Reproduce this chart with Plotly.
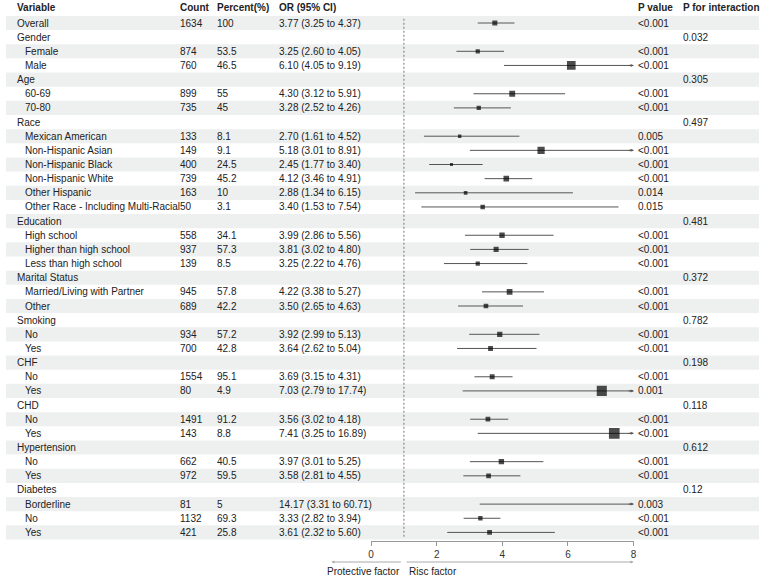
import plotly.graph_objects as go

# ---------------- data ----------------
labels = ["Overall", "Gender", "Female", "Male", "Age", "60-69", "70-80", "Race",
          "Mexican American", "Non-Hispanic Asian", "Non-Hispanic Black", "Non-Hispanic White",
          "Other Hispanic", "Other Race - Including Multi-Racial", "Education", "High school",
          "Higher than high school", "Less than high school", "Marital Status",
          "Married/Living with Partner", "Other", "Smoking", "No", "Yes", "CHF", "No", "Yes",
          "CHD", "No", "Yes", "Hypertension", "No", "Yes", "Diabetes", "Borderline", "No", "Yes"]
is_sub = [0, 0, 1, 1, 0, 1, 1, 0, 1, 1, 1, 1, 1, 1, 0, 1, 1, 1, 0, 1, 1, 0, 1, 1, 0, 1, 1,
          0, 1, 1, 0, 1, 1, 0, 1, 1, 1]
counts = ["1634", "", "874", "760", "", "899", "735", "", "133", "149", "400", "739", "163", "50",
          "", "558", "937", "139", "", "945", "689", "", "934", "700", "", "1554", "80", "",
          "1491", "143", "", "662", "972", "", "81", "1132", "421"]
percents = ["100", "", "53.5", "46.5", "", "55", "45", "", "8.1", "9.1", "24.5", "45.2", "10", "3.1",
            "", "34.1", "57.3", "8.5", "", "57.8", "42.2", "", "57.2", "42.8", "", "95.1", "4.9", "",
            "91.2", "8.8", "", "40.5", "59.5", "", "5", "69.3", "25.8"]
est = [3.77, None, 3.25, 6.10, None, 4.30, 3.28, None, 2.70, 5.18, 2.45, 4.12, 2.88, 3.40,
       None, 3.99, 3.81, 3.25, None, 4.22, 3.50, None, 3.92, 3.64, None, 3.69, 7.03, None,
       3.56, 7.41, None, 3.97, 3.58, None, 14.17, 3.33, 3.61]
low = [3.25, None, 2.60, 4.05, None, 3.12, 2.52, None, 1.61, 3.01, 1.77, 3.46, 1.34, 1.53,
       None, 2.86, 3.02, 2.22, None, 3.38, 2.65, None, 2.99, 2.62, None, 3.15, 2.79, None,
       3.02, 3.25, None, 3.01, 2.81, None, 3.31, 2.82, 2.32]
high = [4.37, None, 4.05, 9.19, None, 5.91, 4.26, None, 4.52, 8.91, 3.40, 4.91, 6.15, 7.54,
        None, 5.56, 4.80, 4.76, None, 5.27, 4.63, None, 5.13, 5.04, None, 4.31, 17.74, None,
        4.18, 16.89, None, 5.25, 4.55, None, 60.71, 3.94, 5.60]
pvals = ["<0.001", "", "<0.001", "<0.001", "", "<0.001", "<0.001", "", "0.005", "<0.001", "<0.001",
         "<0.001", "0.014", "0.015", "", "<0.001", "<0.001", "<0.001", "", "<0.001", "<0.001", "",
         "<0.001", "<0.001", "", "<0.001", "0.001", "", "<0.001", "<0.001", "", "<0.001", "<0.001",
         "", "0.003", "<0.001", "<0.001"]
p_inter = ["", "0.032", "", "", "0.305", "", "", "0.497", "", "", "", "", "", "", "0.481", "", "",
           "", "0.372", "", "", "0.782", "", "", "0.198", "", "", "0.118", "", "", "0.612", "", "",
           "0.12", "", "", ""]
headers = ["Variable", "Count", "Percent(%)", "OR (95% CI)", "P value", "P for interaction"]
xticks = [0, 2, 4, 6, 8]
xmax = 8

# ---------------- layout constants ----------------
W, H = 767, 577
FONT = "Liberation Sans, Arial, sans-serif"
TXT = "#222222"
FS = 10
col_px = {"var": 12, "sub": 20, "count": 176, "pct": 214, "or": 276, "p": 638, "pi": 683}
n = len(labels)
rows = list(range(1, n + 1))
y_top, y_bot = -0.625, 40.15


def px(x):
    return x / W


def esc(s):
    return s.replace("<", "&lt;")


fig = go.Figure()

# shaded bands
shapes = []
for i in rows:
    if i % 2 == 1:
        shapes.append(dict(type="rect", xref="paper", yref="y", x0=px(3), x1=px(762),
                           y0=i - 0.5, y1=i + 0.5, fillcolor="#eef0ef", line=dict(width=0),
                           layer="below"))
# reference line at OR = 1
shapes.append(dict(type="line", xref="x", yref="y", x0=1, x1=1, y0=0.7, y1=37.3,
                   line=dict(color="#777777", width=1, dash="2px,2px"), layer="above"))

# CI lines
lx, ly = [], []
arrow_rows = []
for i, e, lo, hi in zip(rows, est, low, high):
    if e is None:
        continue
    lx += [lo, min(hi, xmax), None]
    ly += [i, i, None]
    if hi > xmax:
        arrow_rows.append(i)
fig.add_trace(go.Scatter(x=lx, y=ly, mode="lines", line=dict(color="#555555", width=1),
                         hoverinfo="skip", showlegend=False))

# point estimates
mx, my, ms = [], [], []
for i, e in zip(rows, est):
    if e is None or e > xmax:
        continue
    mx.append(e)
    my.append(i)
    ms.append(max(2.5, 1.55 * e - 0.8))
fig.add_trace(go.Scatter(x=mx, y=my, mode="markers",
                         marker=dict(symbol="square", size=ms, color="black", line=dict(width=0)),
                         showlegend=False))

ann = []
# arrow heads for truncated CIs
for i in arrow_rows:
    ann.append(dict(x=xmax, y=i, xref="x", yref="y", ax=xmax - 0.2, ay=i, axref="x", ayref="y",
                    text="", showarrow=True, arrowhead=2, arrowsize=0.6, arrowwidth=1,
                    arrowcolor="#555555", standoff=0))

# header
hdr_x = [col_px["var"], col_px["count"], col_px["pct"], col_px["or"], col_px["p"], col_px["pi"]]
for h, x in zip(headers, hdr_x):
    ann.append(dict(x=px(x), y=-0.13, xref="paper", yref="y", text="<b>%s</b>" % h,
                    showarrow=False, xanchor="left", yanchor="middle",
                    font=dict(family=FONT, size=FS, color=TXT)))

# table text
for k, i in enumerate(rows):
    cells = [
        (col_px["sub"] if is_sub[k] else col_px["var"], labels[k]),
        (col_px["count"], counts[k]),
        (col_px["pct"], percents[k]),
        (col_px["or"], "" if est[k] is None else "%.2f (%.2f to %.2f)" % (est[k], low[k], high[k])),
        (col_px["p"], pvals[k]),
        (col_px["pi"], p_inter[k]),
    ]
    for x, t in cells:
        if not t:
            continue
        ann.append(dict(x=px(x), y=i, xref="paper", yref="y", text=esc(t), showarrow=False,
                        xanchor="left", yanchor="middle",
                        font=dict(family=FONT, size=FS, color=TXT)))

# bottom direction arrows and labels
yb = 1 - 562 / H
yt = 1 - 571 / H
ann.append(dict(x=px(331), y=yb, xref="paper", yref="paper", ax=402 - 331, ay=0, text="",
                showarrow=True, arrowhead=2, arrowsize=0.6, arrowwidth=1, arrowcolor="#aaaaaa",
                standoff=0))
ann.append(dict(x=px(635.5), y=yb, xref="paper", yref="paper", ax=407 - 635.5, ay=0, text="",
                showarrow=True, arrowhead=2, arrowsize=0.6, arrowwidth=1, arrowcolor="#aaaaaa",
                standoff=0))
ann.append(dict(x=px(402), y=yt, xref="paper", yref="paper", text="Protective factor",
                showarrow=False, xanchor="right", yanchor="middle",
                font=dict(family=FONT, size=FS, color=TXT)))
ann.append(dict(x=px(407), y=yt, xref="paper", yref="paper", text="Risc factor",
                showarrow=False, xanchor="left", yanchor="middle",
                font=dict(family=FONT, size=FS, color=TXT)))

fig.update_layout(
    width=W, height=H, margin=dict(l=0, r=0, t=0, b=0),
    paper_bgcolor="white", plot_bgcolor="rgba(0,0,0,0)",
    shapes=shapes, annotations=ann, showlegend=False,
    xaxis=dict(domain=[371 / W, 635.6 / W], range=[0, xmax], tickvals=xticks,
               showgrid=False, zeroline=False, showline=True, linecolor="#999999", linewidth=1,
               ticks="outside", ticklen=4, tickcolor="#999999",
               tickfont=dict(family=FONT, size=FS, color="#333333"),
               anchor="free", position=1 - 541 / H, fixedrange=True),
    yaxis=dict(domain=[0, 1], range=[y_bot, y_top], visible=False, fixedrange=True),
)

fig.write_html("out.html")
